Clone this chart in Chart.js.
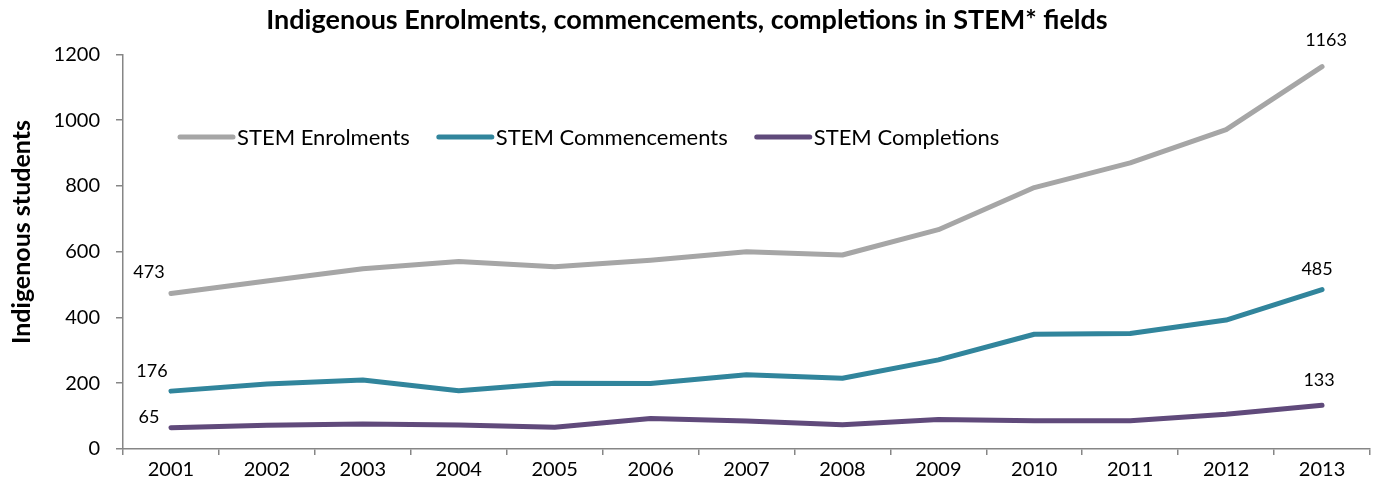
<!DOCTYPE html>
<html>
<head>
<meta charset="utf-8">
<script src="https://cdn.jsdelivr.net/npm/chart.js@4.4.1/dist/chart.umd.min.js"></script>
<style>
  html, body { margin: 0; padding: 0; background: #fff; }
  #wrap { width: 1381px; height: 491px; }
</style>
</head>
<body>
<div id="wrap"><canvas id="myChart" width="1381" height="491"></canvas></div>
<script>
const years = ['2001','2002','2003','2004','2005','2006','2007','2008','2009','2010','2011','2012','2013'];
const enrolments = [473, 511, 548, 570, 554, 574, 600, 590, 667, 795, 870, 971, 1163];
const commencements = [176, 198, 210, 177, 200, 199, 226, 215, 271, 349, 351, 392, 485];
const completions = [65, 72, 76, 73, 66, 93, 85, 74, 90, 86, 86, 106, 133];
const yTicks = [0, 200, 400, 600, 800, 1000, 1200];

const FONT = 'Lato, "Open Sans", sans-serif';

// labels on the first and last point of each line
const endLabels = {
  id: 'endLabels',
  afterDatasetsDraw(chart) {
    const ctx = chart.ctx;
    ctx.save();
    ctx.font = '18px ' + FONT;
    ctx.fillStyle = '#000';
    ctx.textAlign = 'center';
    ctx.textBaseline = 'middle';
    chart.data.datasets.forEach((ds, i) => {
      const meta = chart.getDatasetMeta(i);
      const first = meta.data[0];
      const last = meta.data[meta.data.length - 1];
      const o = ds.labelOffsets;
      ctx.fillText(ds.data[0], first.x + o[0], first.y + o[1]);
      ctx.fillText(ds.data[ds.data.length - 1], last.x + o[2], last.y + o[3]);
    });
    ctx.restore();
  }
};

// legend drawn inside the plot area, y axis title drawn by hand
const innerLegend = {
  id: 'innerLegend',
  afterDraw(chart) {
    const ctx = chart.ctx;
    ctx.save();
    ctx.font = '22px ' + FONT;
    ctx.textBaseline = 'middle';
    let x = 178;
    const y = 137;
    chart.data.datasets.forEach(ds => {
      ctx.strokeStyle = ds.borderColor;
      ctx.lineWidth = 5;
      ctx.lineCap = 'round';
      ctx.beginPath();
      ctx.moveTo(x + 2, y);
      ctx.lineTo(x + 55, y);
      ctx.stroke();
      ctx.fillStyle = '#000';
      ctx.fillText(ds.label, x + 59, y + 1);
      x += 59 + ctx.measureText(ds.label).width + 27;
    });

    ctx.translate(22, 232);
    ctx.rotate(-Math.PI / 2);
    ctx.font = 'bold 25px ' + FONT;
    ctx.textAlign = 'center';
    ctx.fillText('Indigenous students', 0, 0);
    ctx.restore();
  }
};

const info = {
  labels: years,
  datasets: [
    { label: 'STEM Enrolments', data: enrolments, borderColor: '#A6A6A6', labelOffsets: [-22, -21, 4, -26] },
    { label: 'STEM Commencements', data: commencements, borderColor: '#31859C', labelOffsets: [-19, -20, -5, -20] },
    { label: 'STEM Completions', data: completions, borderColor: '#604A7B', labelOffsets: [-22, -10, -3, -25] }
  ].map(d => Object.assign(d, {
    borderWidth: 5,
    pointRadius: 0,
    pointHoverRadius: 0,
    tension: 0,
    fill: false,
    borderCapStyle: 'round',
    borderJoinStyle: 'round'
  }))
};

const config = {
  type: 'line',
  data: info,
  options: {
    responsive: false,
    animation: false,
    layout: { padding: { left: 4, right: 11, top: 0, bottom: 6 } },
    plugins: {
      legend: { display: false },
      tooltip: { enabled: false },
      title: {
        display: true,
        text: 'Indigenous Enrolments, commencements, completions in STEM* fields',
        color: '#000',
        font: { family: FONT, size: 27, weight: 'bold' },
        padding: { top: 4, bottom: 18 }
      }
    },
    scales: {
      x: {
        offset: true,
        grid: { offset: true, drawOnChartArea: false, color: '#868686', tickLength: 6, lineWidth: 1.5 },
        border: { color: '#868686', width: 1.5 },
        ticks: { color: '#000', font: { family: FONT, size: 20 }, padding: 3, maxRotation: 0 }
      },
      y: {
        min: 0,
        max: 1200,
        afterBuildTicks(axis) { axis.ticks = yTicks.map(v => ({ value: v })); },
        afterFit(axis) { axis.width = 119; },
        grid: { drawOnChartArea: false, color: '#868686', tickLength: 7, lineWidth: 1.5 },
        border: { color: '#868686', width: 1.5 },
        ticks: { color: '#000', font: { family: FONT, size: 20 }, padding: 16, callback: v => String(v) }
      }
    }
  },
  plugins: [endLabels, innerLegend]
};

const chart = new Chart(document.getElementById('myChart'), config);
</script>
</body>
</html>
